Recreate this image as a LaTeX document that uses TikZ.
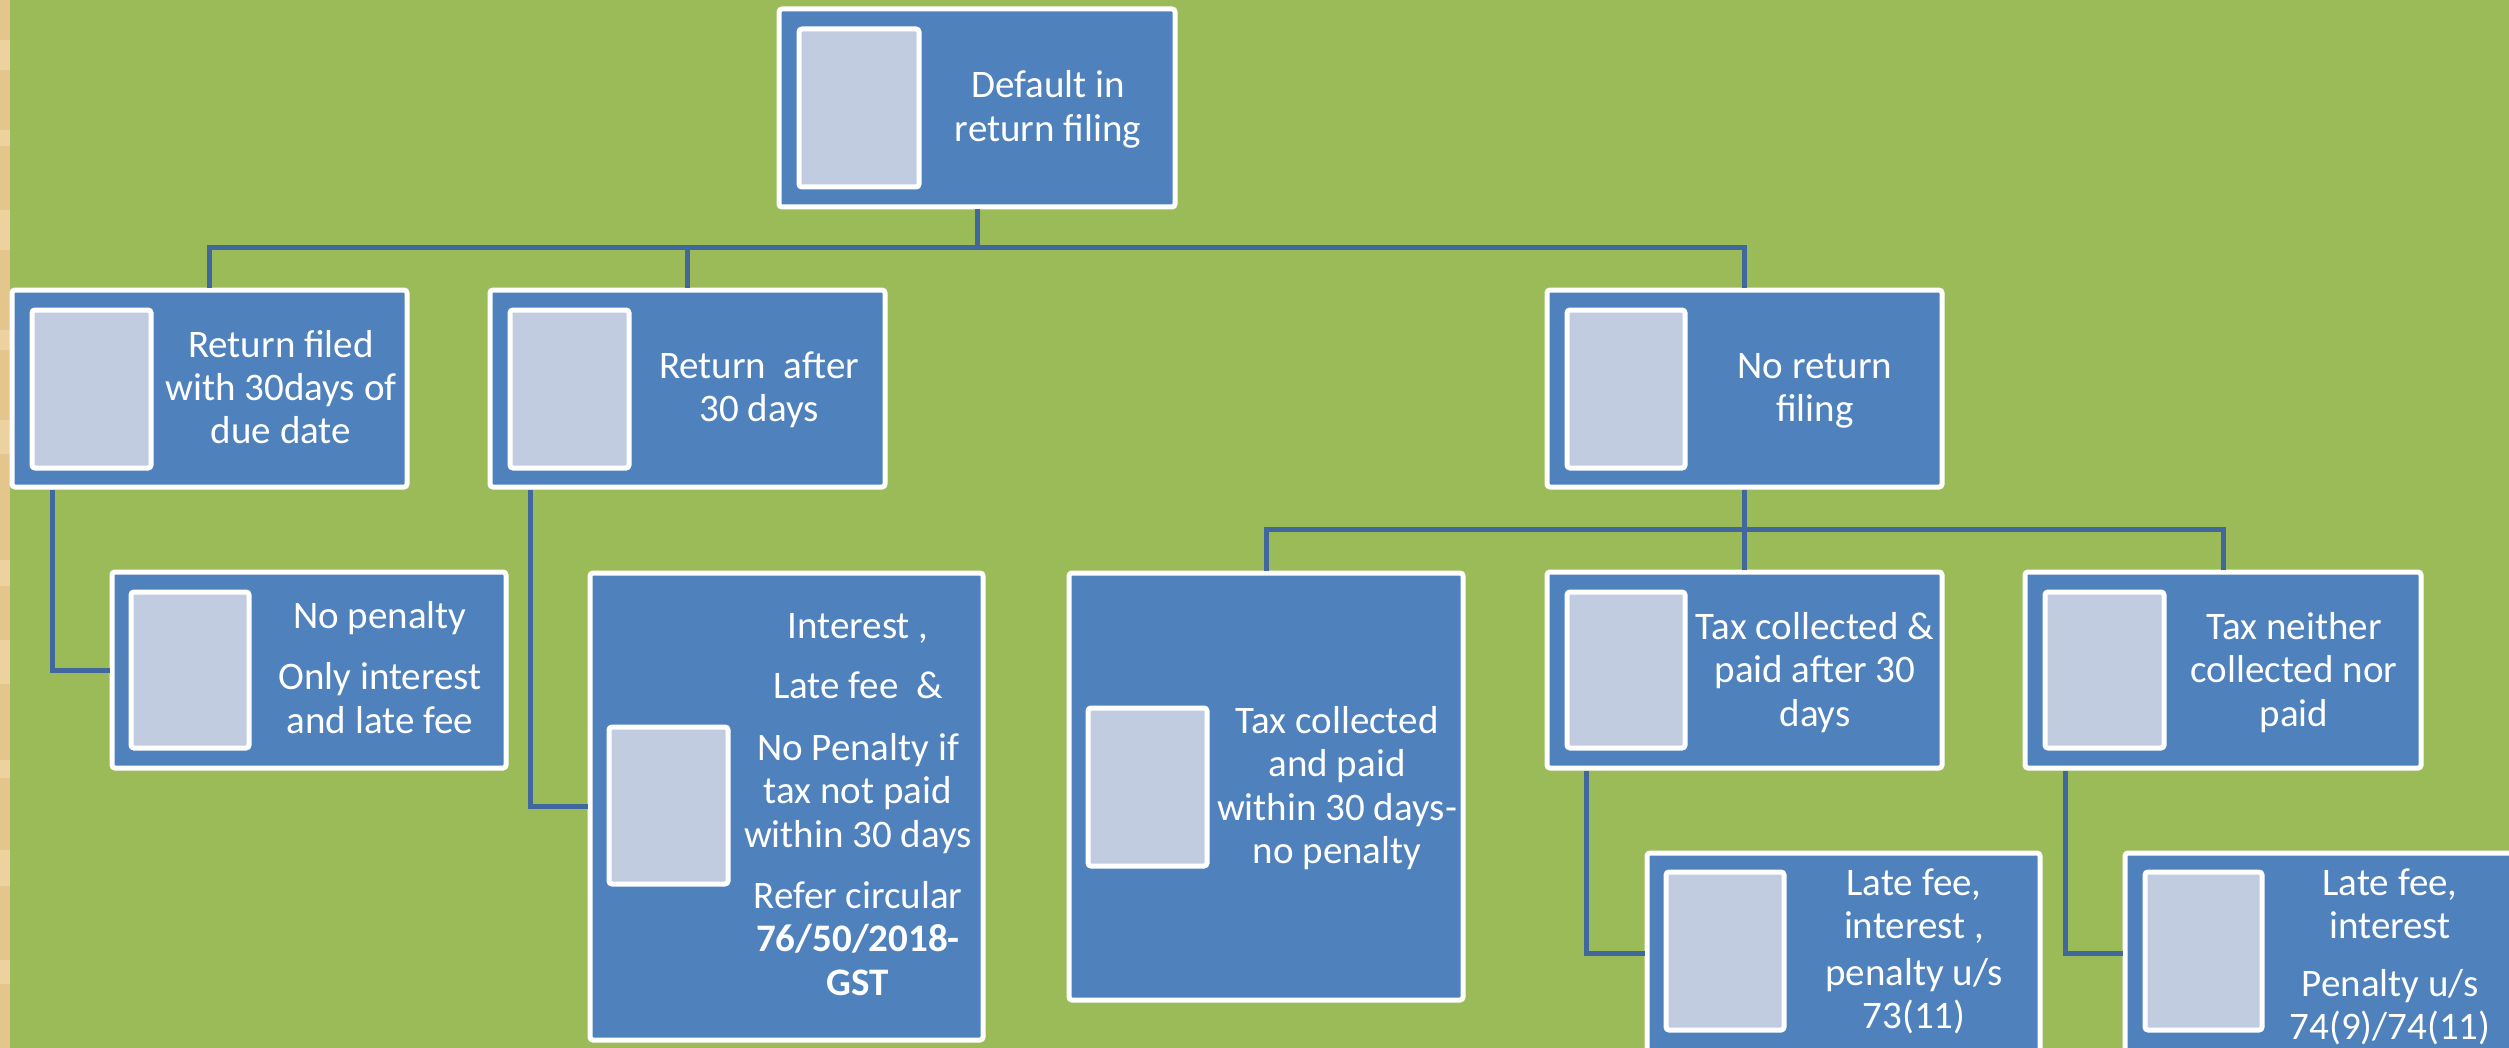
\documentclass[tikz,border=0pt]{standalone}
\usepackage{fontspec}
\setmainfont{Carlito}
\usetikzlibrary{fit}
\definecolor{bggreen}{HTML}{9BBB59}
\definecolor{boxblue}{HTML}{4F81BD}
\definecolor{phblue}{HTML}{C2CCE0}
\definecolor{connblue}{RGB}{64,104,158}
\definecolor{wood}{RGB}{228,198,140}
\definecolor{woodlight}{RGB}{236,210,158}
\newcommand\mlines[1]{\vtop{\baselineskip=21.75pt\lineskiplimit=-100pt\lineskip=0pt\halign{\hfil##\hfil\cr#1\crcr}}}
\newcommand\pgap[1]{\noalign{\vskip#1}}
\begin{document}
\begin{tikzpicture}[x=0.5pt,y=-0.5pt,
  box/.style={draw=white,line width=2.5pt,fill=boxblue,rounded corners=1.5pt,inner sep=0pt},
  ph/.style={draw=white,line width=2.5pt,fill=phblue,rounded corners=1.5pt,inner sep=0pt},
  txt/.style={text=white,inner sep=0pt,anchor=base,font=\fontsize{19.5}{21.75}\selectfont},
  conn/.style={draw=connblue,line width=2.5pt}]
\useasboundingbox (0,0) rectangle (2509,1048);
\clip (0,0) rectangle (2509,1048);
\fill[bggreen] (0,0) rectangle (2509,1048);
\fill[wood] (0,0) rectangle (10,1048);
\foreach \yy/\hh in {40/30,130/16,210/40,330/20,420/34,560/26,640/44,760/18,850/36,960/24}
  \fill[woodlight] (0,\yy) rectangle (10,\yy+\hh);

% boxes
\node[box,fit={(779,9)(1175,207)}] (root) {};
\node[box,fit={(12,290)(407,487)}] (A) {};
\node[box,fit={(490,290)(885,487)}] (B) {};
\node[box,fit={(1547,290)(1942,487)}] (C) {};
\node[box,fit={(112,572)(506,768)}] (A2) {};
\node[box,fit={(590,573)(983,1040)}] (B2) {};
\node[box,fit={(1069,573)(1463,1000)}] (C1) {};
\node[box,fit={(1547,572)(1942,768)}] (C2) {};
\node[box,fit={(2025,572)(2421,768)}] (C3) {};
\node[box,fit={(1647,853)(2040,1053)}] (D1) {};
\node[box,fit={(2125,853)(2519,1053)}] (D2) {};

% placeholders
\node[ph,fit={(799,29)(919,187)}] (proot) {};
\node[ph,fit={(32,310)(151,468)}] (pA) {};
\node[ph,fit={(510,310)(629,468)}] (pB) {};
\node[ph,fit={(1567,310)(1685,468)}] (pC) {};
\node[ph,fit={(131,592)(249,748)}] (pA2) {};
\node[ph,fit={(609,727)(728,884)}] (pB2) {};
\node[ph,fit={(1088,708)(1207,866)}] (pC1) {};
\node[ph,fit={(1567,592)(1685,748)}] (pC2) {};
\node[ph,fit={(2045,592)(2164,748)}] (pC3) {};
\node[ph,fit={(1666,872)(1784,1030)}] (pD1) {};
\node[ph,fit={(2145,872)(2262,1030)}] (pD2) {};

% texts
\node[txt] (troot) at (1048,98) {\mlines{Default in\cr return filing}};
\node[txt] (tA) at (281,357) {\mlines{Return filed\cr with 30days of\cr due date}};
\node[txt] (tB) at (759,378) {\mlines{Return\ \ after\cr 30 days}};
\node[txt] (tC) at (1815,378) {\mlines{No return\cr filing}};
\node[txt] (tA2) at (380,628) {\mlines{No penalty\cr\pgap{9pt} Only interest\cr and late fee}};
\node[txt] (tB2) at (858,638) {\mlines{Interest ,\cr\pgap{8.5pt} Late fee\ \ \&\cr\pgap{9pt} No Penalty if\cr tax not paid\cr within 30 days\cr\pgap{8.75pt} Refer circular\cr \textbf{76/50/2018-}\cr \textbf{GST}}};
\node[txt] (tC1) at (1337,733) {\mlines{Tax collected\cr and paid\cr within 30 days-\cr no penalty}};
\node[txt] (tC2) at (1815,639) {\mlines{Tax collected \&\cr paid after 30\cr days}};
\node[txt] (tC3) at (2294,639) {\mlines{Tax neither\cr collected nor\cr paid}};
\node[txt] (tD1) at (1914,895) {\mlines{Late fee,\cr interest ,\cr\pgap{1.5pt} penalty u/s\cr 73(11)}};
\node[txt] (tD2) at (2390,895) {\mlines{Late fee,\cr interest\cr\pgap{7pt} Penalty u/s\cr 74(9)/74(11)}};

% connectors
\coordinate (j0) at (977,248);
\coordinate (j1) at (1744.5,529);
\coordinate (ka) at (52,0);
\coordinate (kb) at (530,0);
\coordinate (kc) at (1586,0);
\coordinate (kd) at (2065,0);
\draw[conn] (root.south) -- (j0);
\draw[conn] (A.north) |- (j0) -| (C.north);
\draw[conn] (B.north) -- (B.north |- j0);
\draw[conn] (A.south -| ka) |- (A2.west);
\draw[conn] (B.south -| kb) |- (B2.west);
\draw[conn] (C.south) -- (C2.north);
\draw[conn] (C1.north) |- (j1) -| (C3.north);
\draw[conn] (C2.south -| kc) |- (D1.west);
\draw[conn] (C3.south -| kd) |- (D2.west);
\end{tikzpicture}
\end{document}
